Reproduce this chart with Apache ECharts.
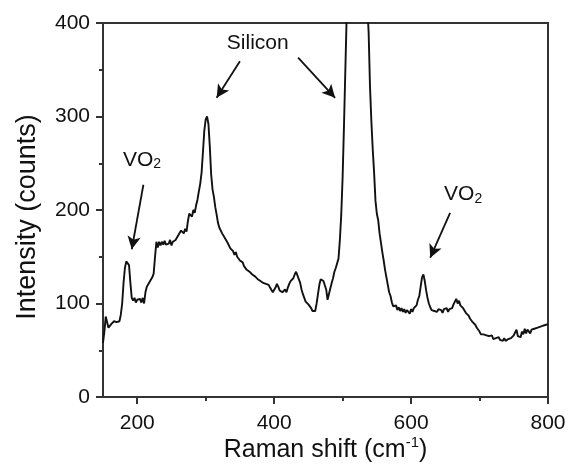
<!DOCTYPE html>
<html>
<head>
<meta charset="utf-8">
<title>Raman spectrum</title>
<script src="https://cdn.jsdelivr.net/npm/echarts@6/dist/echarts.min.js"></script>
<style>
    html, body { margin: 0; padding: 0; background: #fff; }
    #main { width: 569px; height: 464px; }
</style>
</head>
<body>
<div id="main"></div>
<script>
// Raman shift (cm-1)
var ramanShift = [
    150, 152, 154, 156, 158, 160, 162, 164, 166, 168,
    170, 172, 174, 176, 178, 180, 182, 184, 186, 188,
    190, 192, 194, 196, 198, 200, 202, 204, 206, 208,
    210, 212, 214, 216, 218, 220, 222, 224, 226, 228,
    230, 232, 234, 236, 238, 240, 242, 244, 246, 248,
    250, 252, 254, 256, 258, 260, 262, 264, 266, 268,
    270, 272, 274, 276, 278, 280, 282, 284, 286, 288,
    290, 292, 294, 296, 298, 300, 302, 304, 306, 308,
    310, 312, 314, 316, 318, 320, 322, 324, 326, 328,
    330, 332, 334, 336, 338, 340, 342, 344, 346, 348,
    350, 352, 354, 356, 358, 360, 362, 364, 366, 368,
    370, 372, 374, 376, 378, 380, 382, 384, 386, 388,
    390, 392, 394, 396, 398, 400, 402, 404, 406, 408,
    410, 412, 414, 416, 418, 420, 422, 424, 426, 428,
    430, 432, 434, 436, 438, 440, 442, 444, 446, 448,
    450, 452, 454, 456, 458, 460, 462, 464, 466, 468,
    470, 472, 474, 476, 478, 480, 482, 484, 486, 488,
    490, 492, 494, 496, 498, 500, 502, 504, 506, 508,
    510, 515, 520, 525, 530, 534, 536, 538, 540, 542,
    544, 546, 548, 550, 552, 554, 556, 558, 560, 562,
    564, 566, 568, 570, 572, 574, 576, 578, 580, 582,
    584, 586, 588, 590, 592, 594, 596, 598, 600, 602,
    604, 606, 608, 610, 612, 614, 616, 618, 620, 622,
    624, 626, 628, 630, 632, 634, 636, 638, 640, 642,
    644, 646, 648, 650, 652, 654, 656, 658, 660, 662,
    664, 666, 668, 670, 672, 674, 676, 678, 680, 682,
    684, 686, 688, 690, 692, 694, 696, 698, 700, 702,
    704, 706, 708, 710, 712, 714, 716, 718, 720, 722,
    724, 726, 728, 730, 732, 734, 736, 738, 740, 742,
    744, 746, 748, 750, 752, 754, 756, 758, 760, 762,
    764, 766, 768, 770, 772, 774, 776, 778, 780, 782,
    784, 786, 788, 790, 792, 794, 796, 798, 800
];

// intensity (counts), same order
var counts = [
    58, 70, 86, 80, 74, 72, 78, 76, 81, 79,
    80, 78, 81, 88, 100, 122, 138, 145, 147, 141,
    122, 106, 103, 106, 101, 104, 102, 105, 101, 106,
    100, 112, 118, 117, 123, 125, 128, 132, 150, 166,
    160, 166, 162, 166, 163, 167, 163, 165, 164, 168,
    162, 166, 164, 168, 170, 173, 172, 178, 179, 175,
    180, 177, 188, 196, 198, 193, 200, 197, 205, 211,
    220, 228, 240, 262, 285, 297, 300, 292, 268, 238,
    222, 214, 203, 195, 186, 181, 179, 175, 176, 170,
    169, 165, 163, 159, 157, 156, 152, 155, 150, 150,
    146, 145, 144, 140, 139, 136, 137, 134, 134, 131,
    132, 129, 129, 126, 127, 124, 123, 122, 120, 121,
    119, 120, 117, 115, 112, 114, 117, 121, 118, 114,
    113, 112, 111, 115, 112, 117, 121, 124, 122, 127,
    131, 134, 133, 126, 122, 115, 110, 106, 102, 103,
    99, 98, 95, 92, 90, 92, 100, 110, 120, 126,
    127, 124, 126, 115, 104, 105, 116, 122, 127, 134,
    138, 143, 148, 168, 195, 235, 290, 350, 410, 480,
    600, 1500, 3000, 1500, 700, 470, 420, 390, 332, 295,
    265, 240, 210, 196, 189, 175, 165, 155, 146, 136,
    128, 120, 112, 108, 101, 97, 95, 98, 93, 96,
    92, 95, 91, 94, 90, 93, 92, 89, 94, 91,
    95, 93, 98, 104, 108, 118, 128, 131, 124, 114,
    106, 100, 96, 93, 95, 92, 93, 91, 94, 92,
    93, 90, 94, 92, 95, 91, 94, 96, 95, 99,
    102, 105, 100, 103, 98, 99, 95, 93, 90, 88,
    87, 84, 83, 80, 80, 77, 74, 72, 70, 67,
    66, 67, 65, 66, 64, 65, 63, 66, 62, 64,
    63, 62, 64, 61, 63, 60, 63, 60, 58, 62,
    60, 63, 62, 66, 64, 72, 65, 67, 64, 70,
    67, 73, 68, 72, 70, 68, 72, 70, 73, 71,
    74, 72, 75, 74, 76, 75, 77, 76, 78
];

var xLabels = [200, 400, 600, 800];

// peak labels and where their arrows start / end (data coords)
var peakNames = ['VO2', 'Silicon', 'VO2'];
var peakLabelAt = [[207, 253], [376, 378], [676, 216]];
var arrowFrom = [[209, 227], [350, 359], [435, 363], [657, 197]];
var arrowTo = [[192, 158], [316, 320], [489, 320], [628, 149]];

var fontFamily = '"Liberation Sans", Arial, sans-serif';
var ink = '#111';
var frame = '#333';

var chart = echarts.init(document.getElementById('main'));

var spectrum = ramanShift.map(function (x, i) {
    return [x, counts[i]];
});

var arrowLines = arrowFrom.map(function (p, i) {
    return [{ coord: p }, { coord: arrowTo[i] }];
});

var peakPoints = peakNames.map(function (name, i) {
    var txt = name === 'VO2' ? '{m|VO}{s|2}' : '{m|' + name + '}';
    return {
        coord: peakLabelAt[i],
        label: { formatter: txt }
    };
});

chart.setOption({
    animation: false,
    backgroundColor: '#fff',
    textStyle: { fontFamily: fontFamily, color: ink },
    grid: {
        left: 103,
        right: 21,
        top: 23,
        bottom: 67,
        outerBoundsMode: 'none', // keep the plot box where it is
        containLabel: false,
        show: true,
        borderColor: frame,
        borderWidth: 2
    },
    xAxis: {
        type: 'value',
        min: 150,
        max: 800,
        minInterval: 200,
        maxInterval: 200,
        name: '{n|Raman shift (cm}{p|-1}{n|)}',
        nameLocation: 'middle',
        nameGap: 38,
        nameMoveOverlap: false,
        nameTextStyle: {
            rich: {
                n: { fontSize: 25, lineHeight: 28, verticalAlign: 'bottom', color: ink, fontFamily: fontFamily },
                p: { fontSize: 15, lineHeight: 15, verticalAlign: 'top', color: ink, fontFamily: fontFamily }
            }
        },
        axisLine: { show: true, onZero: false, lineStyle: { color: frame, width: 2 } },
        axisTick: { show: true, inside: false, length: 7, customValues: xLabels, lineStyle: { color: frame, width: 2 } },
        minorTick: { show: true, splitNumber: 2, length: 4, lineStyle: { color: frame, width: 2 } },
        axisLabel: { customValues: xLabels, margin: 16, fontSize: 21, color: ink, fontFamily: fontFamily },
        splitLine: { show: false },
        minorSplitLine: { show: false }
    },
    yAxis: {
        type: 'value',
        min: 0,
        max: 400,
        interval: 100,
        name: 'Intensity (counts)',
        nameLocation: 'middle',
        nameGap: 62,
        nameMoveOverlap: false,
        nameTextStyle: { fontSize: 27, color: ink, fontFamily: fontFamily, padding: [0, 14, 0, 0] },
        axisLine: { show: true, lineStyle: { color: frame, width: 2 } },
        axisTick: { show: true, inside: false, length: 7, lineStyle: { color: frame, width: 2 } },
        minorTick: { show: true, splitNumber: 2, length: 4, lineStyle: { color: frame, width: 2 } },
        axisLabel: { margin: 13, fontSize: 21, color: ink, fontFamily: fontFamily },
        splitLine: { show: false },
        minorSplitLine: { show: false }
    },
    series: [{
        type: 'line',
        data: spectrum,
        showSymbol: false,
        symbol: 'none',
        clip: true,
        lineStyle: { color: '#111', width: 1.9 },
        markLine: {
            silent: true,
            symbol: ['none', 'arrow'],
            symbolSize: [10, 13],
            label: { show: false },
            lineStyle: { color: '#111', width: 1.8, type: 'solid' },
            emphasis: { disabled: true },
            data: arrowLines
        },
        markPoint: {
            silent: true,
            symbol: 'circle',
            symbolSize: 0,
            label: {
                show: true,
                position: 'inside',
                rich: {
                    m: { fontSize: 21, lineHeight: 22, verticalAlign: 'top', color: ink, fontFamily: fontFamily },
                    s: { fontSize: 14, lineHeight: 14, verticalAlign: 'bottom', color: ink, fontFamily: fontFamily }
                }
            },
            data: peakPoints
        }
    }]
});
</script>
</body>
</html>
